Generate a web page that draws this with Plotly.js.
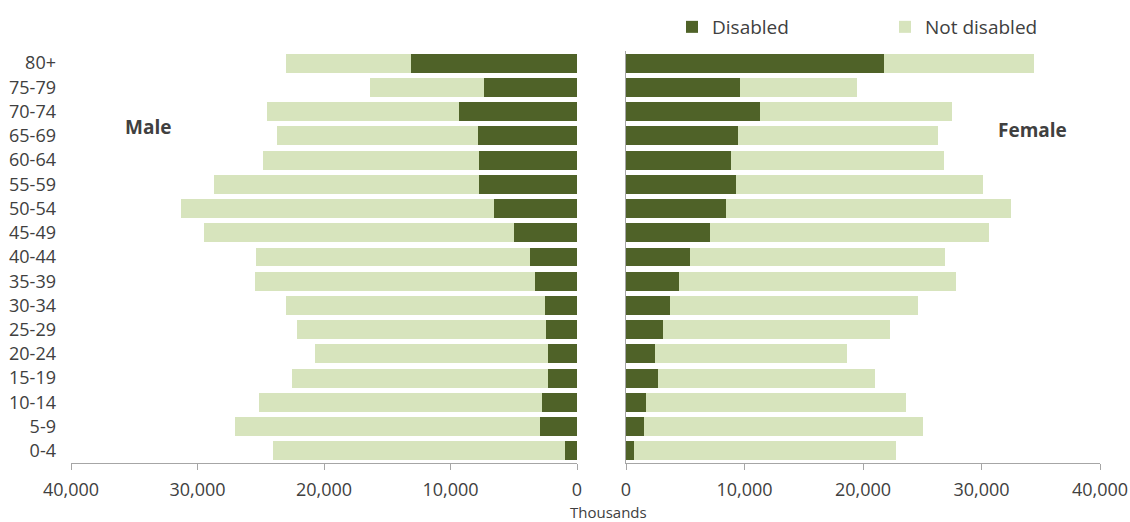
<!DOCTYPE html>
<html>
<head>
<meta charset="utf-8">
<script src="https://cdn.plot.ly/plotly-3.0.1.min.js"></script>
<style>html,body{margin:0;padding:0;background:#fff;}#chart{width:1130px;height:522px;}</style>
</head>
<body>
<div id="chart"></div>
<script>
// Age groups (bottom to top)
const ageGroups = ["0-4","5-9","10-14","15-19","20-24","25-29","30-34","35-39","40-44","45-49","50-54","55-59","60-64","65-69","70-74","75-79","80+"];
// Thousands
const maleDisabled    = [960, 2960, 2770, 2260, 2320, 2440, 2530, 3320, 3740, 5010, 6590, 7740, 7740, 7790, 9310, 7340, 13150];
const maleNotDisabled = [23040, 24110, 22390, 20240, 18390, 19730, 20510, 22170, 21630, 24510, 24740, 20930, 17090, 15920, 15190, 9050, 9830];
const femaleDisabled    = [650, 1500, 1680, 2690, 2480, 3100, 3700, 4460, 5440, 7100, 8460, 9320, 8880, 9440, 11270, 9590, 21760];
const femaleNotDisabled = [22110, 23540, 21910, 18290, 16190, 19180, 20950, 23420, 21520, 23530, 24060, 20780, 17960, 16930, 16220, 9880, 12690];
const xTicks = [0, 10000, 20000, 30000, 40000];

const DARK = "#4F6228", LIGHT = "#D7E4BD";
const FONT = "Open Sans, Liberation Sans, sans-serif";
const TXT = "#404040";

const traces = [
  {type:"bar", orientation:"h", name:"Disabled", y:ageGroups, x:maleDisabled, xaxis:"x", yaxis:"y",
   marker:{color:DARK}, legendgroup:"d", hoverinfo:"x+y"},
  {type:"bar", orientation:"h", name:"Not disabled", y:ageGroups, x:maleNotDisabled, xaxis:"x", yaxis:"y",
   marker:{color:LIGHT}, legendgroup:"n", hoverinfo:"x+y"},
  {type:"bar", orientation:"h", name:"Disabled", y:ageGroups, x:femaleDisabled, xaxis:"x2", yaxis:"y2",
   marker:{color:DARK}, legendgroup:"d", showlegend:false, hoverinfo:"x+y"},
  {type:"bar", orientation:"h", name:"Not disabled", y:ageGroups, x:femaleNotDisabled, xaxis:"x2", yaxis:"y2",
   marker:{color:LIGHT}, legendgroup:"n", showlegend:false, hoverinfo:"x+y"}
];

const W = 1130, H = 522, TOP = 51, PH = 412;
const py = (pix) => 1 - (pix - TOP) / PH;

const axisCommon = {
  showgrid:false, zeroline:false, showline:true, linecolor:"#A6A6A6", linewidth:1,
  ticks:"outside", ticklen:6, tickcolor:"#A6A6A6", tickvals:xTicks, tickformat:",",
  ticklabelstandoff:4,
  tickfont:{family:FONT, size:18, color:TXT}, fixedrange:true
};

const layout = {
  width:W, height:H,
  margin:{l:0, r:0, t:TOP, b:H - TOP - PH},
  paper_bgcolor:"#fff", plot_bgcolor:"#fff",
  barmode:"stack", bargap:0.22,
  font:{family:FONT, color:TXT},
  xaxis:Object.assign({}, axisCommon, {domain:[71/W, 577/W], range:[40000, 0], anchor:"y"}),
  xaxis2:Object.assign({}, axisCommon, {domain:[626/W, 1100/W], range:[0, 40000], anchor:"y2"}),
  yaxis:{anchor:"x", showgrid:false, zeroline:false, showline:false, ticks:"",
         ticklabelstandoff:14, tickfont:{family:FONT, size:18, color:TXT}, fixedrange:true},
  yaxis2:{anchor:"x2", showgrid:false, zeroline:false, showline:true, linecolor:"#A6A6A6",
          ticks:"", showticklabels:false, fixedrange:true},
  yaxis3:{overlaying:"y", anchor:"x", side:"right", type:"linear", range:[-0.5, 16.5],
          tickvals:ageGroups.map((_, i) => i - 0.5).concat([ageGroups.length - 0.5]),
          showticklabels:false, ticks:"inside", ticklen:4, tickcolor:"#A6A6A6",
          showline:true, linecolor:"#A6A6A6", showgrid:false, zeroline:false, fixedrange:true},
  showlegend:true,
  legend:{orientation:"h", xref:"container", yref:"container", x:672/W, y:1-27/H,
          xanchor:"left", yanchor:"middle", entrywidth:168, entrywidthmode:"pixels",
          font:{family:FONT, size:19, color:TXT}, traceorder:"normal", itemclick:false, itemdoubleclick:false},
  annotations:[
    {text:"<b>Male</b>", xref:"paper", yref:"paper", x:148/W, y:py(127), xanchor:"center", yanchor:"middle",
     showarrow:false, font:{family:FONT, size:19, color:TXT}},
    {text:"<b>Female</b>", xref:"paper", yref:"paper", x:1032/W, y:py(130), xanchor:"center", yanchor:"middle",
     showarrow:false, font:{family:FONT, size:19, color:TXT}},
    {text:"Thousands", xref:"paper", yref:"paper", x:608/W, y:py(512), xanchor:"center", yanchor:"middle",
     showarrow:false, font:{family:FONT, size:15, color:TXT}}
  ]
};

Plotly.newPlot("chart", traces, layout, {displayModeBar:false, staticPlot:true});
</script>
</body>
</html>
